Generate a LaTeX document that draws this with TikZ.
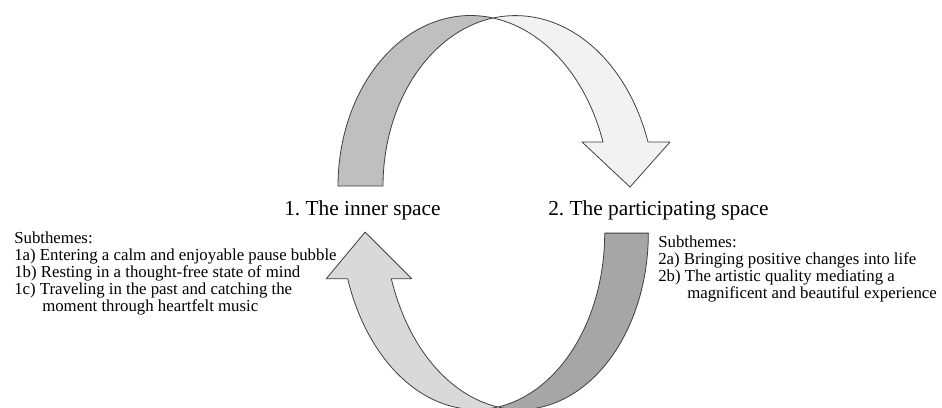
\documentclass[tikz,border=0pt]{standalone}
\usepackage{fontspec}
\setmainfont{Liberation Serif}
\definecolor{topdark}{HTML}{BFBFBF}
\definecolor{toplight}{HTML}{F2F2F2}
\definecolor{botdark}{HTML}{A6A6A6}
\definecolor{botlight}{HTML}{D9D9D9}
\definecolor{edgegray}{HTML}{404040}
\newcommand{\subfont}{\fontsize{12.6pt}{12.75pt}\selectfont}
\newcommand{\titlefont}{\fontsize{16pt}{18pt}\selectfont}
% ribbon arrow in local pixel coordinates, origin at the crossing point
\newcommand{\ribbonarrow}[2]{%
  \filldraw[band, fill=#1]
    plot[domain=180:279.78, samples=60] ({-22.5+132.5*cos(\x)},{168+170.5*sin(\x)})
    -- plot[domain=260.22:180, samples=60] ({22.5+132.5*cos(\x)},{168+170.5*sin(\x)})
    -- cycle;
  \filldraw[band, fill=#2]
    plot[domain=260.75:341.16, samples=60] ({22.5+140*cos(\x)},{184.3+186.7*sin(\x)})
    -- (177,124) -- (137,169) -- (89,124)
    -- plot[domain=341.16:279.25, samples=60] ({-22.5+140*cos(\x)},{184.3+186.7*sin(\x)})
    -- cycle;
}
\begin{document}
\frenchspacing
\begin{tikzpicture}[x=0.75pt, y=-0.75pt,
  band/.style={draw=edgegray, line width=0.6pt, line join=round},
  titletext/.style={inner sep=0pt, anchor=base west, font=\titlefont},
  subtext/.style={inner sep=0pt, anchor=base west, font=\subfont}]
\useasboundingbox[fill=white] (0,0) rectangle (942,407);

% top arrow (inner space -> participating space)
\begin{scope}[shift={(493,18)}]
  \ribbonarrow{topdark}{toplight}
\end{scope}

% bottom arrow (participating space -> inner space)
\begin{scope}[shift={(498,407)}, rotate=180, xscale=0.97, yscale=1.035]
  \ribbonarrow{botdark}{botlight}
\end{scope}

\node[titletext] (inner) at (284,215) {1. The inner space};
\node[titletext] (part) at (548,215) {2. The participating space};

\node[subtext] (subL) at (14,243) {\parbox[t]{300pt}{\subfont\raggedright
Subthemes:\\
1a) Entering a calm and enjoyable pause bubble\\
1b) Resting in a thought-free state of mind\\
1c) Traveling in the past and catching the\\
\hspace*{21pt}moment through heartfelt music}};

\node[subtext] (subR) at (658,247.5) {\parbox[t]{300pt}{\subfont\raggedright
Subthemes:\\
2a) Bringing positive changes into life\\
2b) The artistic quality mediating a\\
\hspace*{21.75pt}magnificent and beautiful experience}};
\end{tikzpicture}
\end{document}
